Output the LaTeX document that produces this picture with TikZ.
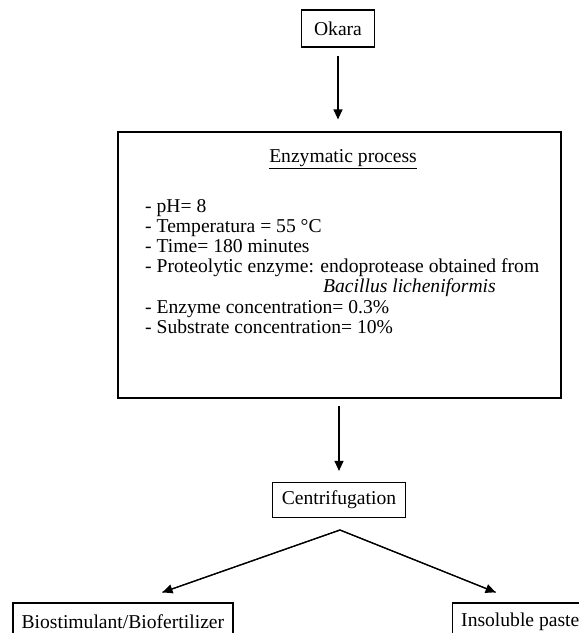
\documentclass[tikz,border=0pt]{standalone}
\usepackage{fontspec}
\setmainfont{Liberation Serif}
\usetikzlibrary{arrows.meta,positioning}
\tikzset{
	stepbox/.style={draw, line width=1.2pt, inner sep=0pt, font=\fontsize{19.6}{20}\selectfont},
	itemtext/.style={anchor=base west, inner sep=0pt, font=\fontsize{19.6}{20}\selectfont},
	flow/.style={-{Triangle[length=10pt,width=9pt]}, line width=1.2pt},
}

\begin{document}
\begin{tikzpicture}[x=1pt,y=-1pt]
		\useasboundingbox (0,0) rectangle (579,633);
		\clip (0,0) rectangle (579,633);
		\begin{scope}
			\node[stepbox, minimum width=73pt, minimum height=37pt] (okara) at (338,28.5) {Okara};
			\node[stepbox, minimum width=443pt, minimum height=266pt] (enzyme) at (339.5,265) {};
			\node[stepbox, minimum width=133pt, minimum height=35pt] (centri) at (339,500) {Centrifugation};
			\node[stepbox, minimum width=220pt, minimum height=38pt, anchor=north west] (bio) at (12.3,602.3) {Biostimulant/Biofertilizer};
			\node[stepbox, minimum width=136pt, minimum height=38pt, anchor=north west] (paste) at (451.7,602.3) {Insoluble paste};
		
			\node[stepbox, draw=none] (title) at (343,159) {\underline{Enzymatic process}};
			\foreach \txt [count=\i] in {{- pH= 8},{- Temperatura = 55 °C},{- Time= 180 minutes},{- Proteolytic enzyme: endoprotease obtained from}}
				\node[itemtext] (item\i) at (145,212+20.2*\i-20.2) {\txt};
			\node[itemtext] (bacillus) at (323,292.8) {\itshape Bacillus licheniformis};
			\node[itemtext] (item5) at (145,313) {- Enzyme concentration= 0.3\%};
			\node[itemtext] (item6) at (145,333.2) {- Substrate concentration= 10\%};
		
			\coordinate (fork) at (340,530);
			\coordinate (biotip) at (162.5,592.3);
			\coordinate (pastetip) at (495.6,592.3);
		
			\draw[flow, shorten <=8pt, shorten >=12pt] (okara.south) to (okara.south |- enzyme.north);
			\draw[flow, shorten <=7.5pt, shorten >=11pt] (centri.north |- enzyme.south) to (centri.north);
			\draw[line width=1.2pt] (biotip) -- (fork) -- (pastetip);
			\draw[flow] (fork) to (biotip);
			\draw[flow] (fork) to (pastetip);
		\end{scope}
	\end{tikzpicture}
\end{document}
